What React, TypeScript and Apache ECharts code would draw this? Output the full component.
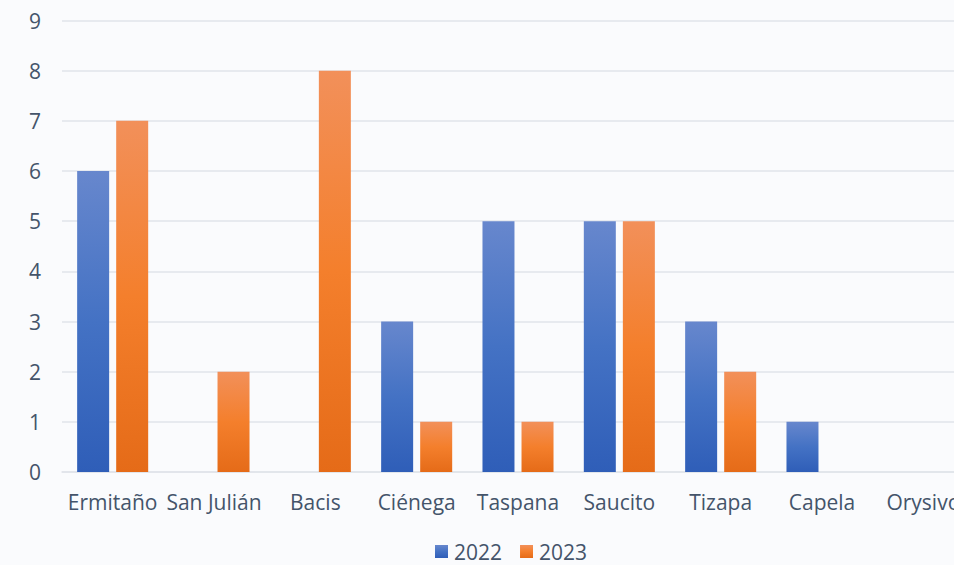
import React, { useEffect, useRef } from "react";
import * as echarts from "echarts";

const categories = ["Ermitaño", "San Julián", "Bacis", "Ciénega", "Taspana", "Saucito", "Tizapa", "Capela", "Orysivo"];
const values2022 = [6, 0, 0, 3, 5, 5, 3, 1, 0];
const values2023 = [7, 2, 8, 1, 1, 5, 2, 0, 0];
const seriesNames = ["2022", "2023"];

const grad = (top: string, mid: string, bottom: string) =>
  new echarts.graphic.LinearGradient(0, 0, 0, 1, [
    { offset: 0, color: top },
    { offset: 0.5, color: mid },
    { offset: 1, color: bottom },
  ]);

export default function App() {
  const ref = useRef<HTMLDivElement>(null);
  useEffect(() => {
    if (!ref.current) return;
    const chart = echarts.init(ref.current, null, { renderer: "svg" });
    const font = "'Open Sans', sans-serif";
    chart.setOption({
      animation: false,
      backgroundColor: "#fafbfd",
      textStyle: { fontFamily: font },
      grid: { left: 62, right: 6, top: 20.5, bottom: 93, containLabel: false },
      legend: {
        left: 435,
        top: 541,
        padding: 0,
        itemWidth: 13,
        itemHeight: 13,
        itemGap: 18,
        icon: "rect",
        textStyle: { fontSize: 21, lineHeight: 21, color: "#44546a", fontFamily: font, padding: [0, 0, 0, 1] },
        data: seriesNames,
      },
      xAxis: {
        type: "category",
        data: categories,
        axisLine: { lineStyle: { color: "#e1e4ea", width: 1.5 } },
        axisTick: { show: false },
        axisLabel: { fontSize: 21, color: "#44546a", margin: 19, interval: 0, fontFamily: font },
      },
      yAxis: {
        type: "value",
        min: 0,
        max: 9,
        interval: 1,
        axisLine: { show: false },
        axisTick: { show: false },
        splitLine: { lineStyle: { color: "#e1e4ea", width: 1.5 } },
        axisLabel: { fontSize: 21, color: "#44546a", margin: 21, fontFamily: font },
      },
      series: [
        {
          name: seriesNames[0],
          type: "bar",
          data: values2022,
          barWidth: 32,
          barGap: "22%",
          itemStyle: { color: grad("#6787cd", "#4472c4", "#2f5eb8") },
        },
        {
          name: seriesNames[1],
          type: "bar",
          data: values2023,
          barWidth: 32,
          itemStyle: { color: grad("#f2905a", "#f47f2c", "#e56b18") },
        },
      ],
    });
    return () => chart.dispose();
  }, []);
  return (
    <div style={{ position: "fixed", left: 0, top: 0, width: 954, height: 565, overflow: "hidden", background: "#fafbfd" }}>
      <div ref={ref} style={{ width: 980, height: 565 }} />
    </div>
  );
}
